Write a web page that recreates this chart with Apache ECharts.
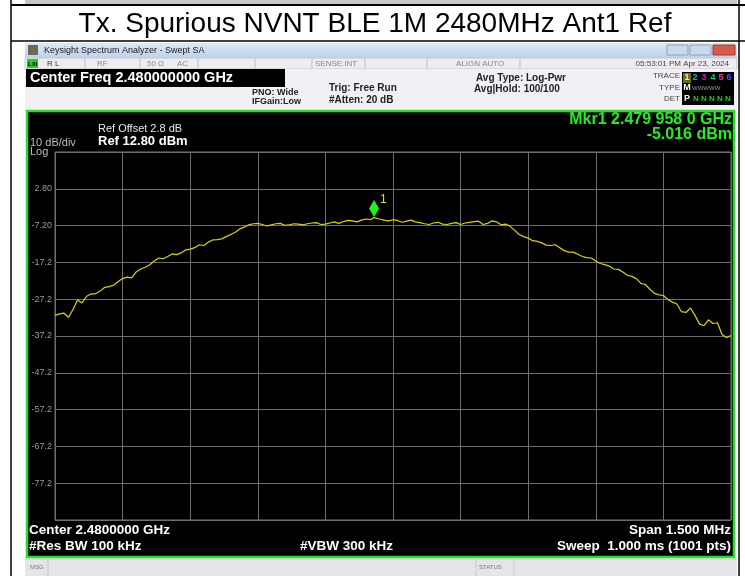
<!DOCTYPE html>
<html>
<head>
<meta charset="utf-8">
<script src="https://cdn.jsdelivr.net/npm/echarts@6/dist/echarts.min.js"></script>
<style>
  html, body { margin: 0; padding: 0; background: #fff; }
  #chart { width: 745px; height: 576px; }
</style>
</head>
<body>
<div id="chart"></div>
<script>
// trace data (frequency in MHz, level in dBm)
const freqMHz = [
  2479.25, 2479.26, 2479.27, 2479.28, 2479.29, 2479.30, 2479.31, 2479.32, 2479.33, 2479.34,
  2479.35, 2479.36, 2479.37, 2479.38, 2479.39, 2479.40, 2479.41, 2479.42, 2479.43, 2479.44,
  2479.45, 2479.46, 2479.47, 2479.48, 2479.49, 2479.50, 2479.51, 2479.52, 2479.53, 2479.54,
  2479.55, 2479.56, 2479.57, 2479.58, 2479.59, 2479.60, 2479.61, 2479.62, 2479.63, 2479.64,
  2479.65, 2479.66, 2479.67, 2479.68, 2479.69, 2479.70, 2479.71, 2479.72, 2479.73, 2479.74,
  2479.75, 2479.76, 2479.77, 2479.78, 2479.79, 2479.80, 2479.81, 2479.82, 2479.83, 2479.84,
  2479.85, 2479.86, 2479.87, 2479.88, 2479.89, 2479.90, 2479.91, 2479.92, 2479.93, 2479.94,
  2479.95, 2479.958, 2479.97, 2479.98, 2479.99, 2480.00, 2480.01, 2480.02, 2480.03, 2480.04,
  2480.05, 2480.06, 2480.07, 2480.08, 2480.09, 2480.10, 2480.11, 2480.12, 2480.13, 2480.14,
  2480.15, 2480.16, 2480.17, 2480.18, 2480.19, 2480.20, 2480.21, 2480.22, 2480.23, 2480.24,
  2480.25, 2480.26, 2480.27, 2480.28, 2480.29, 2480.30, 2480.31, 2480.32, 2480.33, 2480.34,
  2480.35, 2480.36, 2480.37, 2480.38, 2480.39, 2480.40, 2480.41, 2480.42, 2480.43, 2480.44,
  2480.45, 2480.46, 2480.47, 2480.48, 2480.49, 2480.50, 2480.51, 2480.52, 2480.53, 2480.54,
  2480.55, 2480.56, 2480.57, 2480.58, 2480.59, 2480.60, 2480.61, 2480.62, 2480.63, 2480.64,
  2480.65, 2480.66, 2480.67, 2480.68, 2480.69, 2480.70, 2480.71, 2480.72, 2480.73, 2480.74,
  2480.75
];
const levelDbm = [
  -31.6, -31.2, -31.0, -32.1, -30.0, -27.4, -28.2, -26.4, -25.8, -25.7,
  -25.0, -24.0, -23.8, -23.4, -22.4, -21.6, -21.2, -21.4, -19.8, -19.0,
  -18.5, -17.9, -16.8, -16.0, -16.2, -15.6, -14.9, -15.1, -14.6, -13.8,
  -13.6, -13.2, -12.4, -12.6, -11.7, -11.1, -11.0, -10.8, -10.2, -9.6,
  -9.0, -8.1, -7.6, -7.0, -6.7, -6.6, -6.9, -7.3, -7.0, -6.7,
  -6.6, -7.1, -7.0, -6.7, -6.8, -7.0, -6.7, -6.5, -6.4, -6.9,
  -6.8, -6.5, -6.2, -6.6, -6.1, -5.8, -5.9, -6.2, -5.7, -5.4,
  -5.6, -5.016, -5.4, -5.7, -5.9, -5.6, -5.8, -6.3, -6.0, -5.7,
  -6.2, -6.4, -6.7, -6.9, -6.5, -6.3, -6.8, -6.9, -6.6, -6.4,
  -6.9, -6.5, -6.3, -6.1, -6.0, -6.9, -6.6, -5.9, -6.2, -7.0,
  -6.8, -7.4, -8.5, -9.6, -10.2, -10.6, -11.3, -11.5, -11.9, -12.5,
  -12.6, -12.4, -13.2, -14.0, -14.4, -14.4, -15.0, -15.6, -15.9, -16.0,
  -16.8, -17.5, -17.8, -18.2, -19.0, -19.1, -19.8, -20.7, -21.0, -21.6,
  -22.9, -23.2, -24.5, -25.6, -26.0, -26.2, -27.3, -28.0, -28.5, -30.6,
  -30.8, -29.6, -31.6, -33.9, -34.4, -32.8, -33.8, -33.6, -36.8, -37.6,
  -37.1
];
const marker = [2479.958, -5.016];
const refLevel = 12.8;
const bottomLevel = -87.2;
const dbPerDiv = 10;
const startMHz = 2479.25;
const stopMHz = 2480.75;

const FONT = '"Liberation Sans", Arial, sans-serif';

function txt(x, y, s, size, fill, opts) {
  opts = opts || {};
  return {
    type: 'text', x: x, y: y, z: 50,
    style: {
      text: s,
      fill: fill,
      font: (opts.bold ? 'bold ' : '') + size + 'px ' + FONT,
      align: opts.align || 'left',
      verticalAlign: 'middle'
    }
  };
}
function box(x, y, w, h, fill, stroke, lw) {
  return {
    type: 'rect', z: -5,
    shape: { x: x, y: y, width: w, height: h },
    style: { fill: fill, stroke: stroke || null, lineWidth: lw || 1 }
  };
}
function vline(x, y1, y2, color, w) {
  return {
    type: 'line', z: 30,
    shape: { x1: x, y1: y1, x2: x, y2: y2 },
    style: { stroke: color, lineWidth: w || 1 }
  };
}
function hline(y, x1, x2, color, w) {
  return {
    type: 'line', z: 30,
    shape: { x1: x1, y1: y, x2: x2, y2: y },
    style: { stroke: color, lineWidth: w || 1 }
  };
}

const graphics = [
  // page table frame
  box(25, 0, 712, 4, '#c8c8c8'),
  hline(5, 11, 745, '#000', 2),
  hline(41, 11, 745, '#000', 1.5),
  vline(11, 0, 576, '#000', 1.5),
  vline(739, 0, 576, '#000', 1.5),
  txt(375, 24, 'Tx. Spurious NVNT BLE 1M 2480MHz Ant1 Ref', 28, '#000', { align: 'center' }),

  // window title bar
  {
    type: 'rect', z: -5,
    shape: { x: 25, y: 43, width: 712, height: 15 },
    style: {
      fill: new echarts.graphic.LinearGradient(0, 0, 0, 1, [
        { offset: 0, color: '#dde8f4' }, { offset: 1, color: '#bcd2ea' }
      ])
    }
  },
  box(28, 45, 10, 10, '#6b6a55'),
  txt(44, 51, 'Keysight Spectrum Analyzer - Swept SA', 9, '#1a1a1a'),
  box(667, 45, 21, 10, '#c9d9ec', '#8aa2bf'),
  box(690, 45, 21, 10, '#c9d9ec', '#8aa2bf'),
  box(713, 45, 22, 10, '#d95a4a', '#9b3a30'),

  // status row
  box(25, 58, 712, 11, '#eeecf0', '#c8c6cc'),
  box(27, 59, 11, 9, '#22d022'),
  txt(28, 64, 'LXI', 6, '#000', { bold: true }),
  txt(47, 64, 'R L', 8, '#333'),
  txt(97, 64, 'RF', 8, '#888'),
  txt(147, 64, '50 Ω', 8, '#888'),
  txt(177, 64, 'AC', 8, '#888'),
  txt(315, 64, 'SENSE:INT', 8, '#888'),
  txt(456, 64, 'ALIGN AUTO', 8, '#888'),
  txt(729, 64, '05:53:01 PM Apr 23, 2024', 8, '#444', { align: 'right' }),
  vline(85, 58, 69, '#c0bec4'), vline(140, 58, 69, '#c0bec4'),
  vline(198, 58, 69, '#c0bec4'), vline(255, 58, 69, '#c0bec4'),
  vline(312, 58, 69, '#c0bec4'), vline(365, 58, 69, '#c0bec4'),
  vline(427, 58, 69, '#c0bec4'), vline(520, 58, 69, '#c0bec4'),

  // info panel
  box(25, 69, 712, 41, '#f2f0f4'),
  box(26, 69, 259, 18, '#000'),
  txt(30, 78, 'Center Freq 2.480000000 GHz', 14.5, '#fff', { bold: true }),
  txt(252, 93, 'PNO: Wide', 9, '#222', { bold: true }),
  txt(252, 102, 'IFGain:Low', 9, '#222', { bold: true }),
  txt(268, 92, '→', 10, '#222', { align: 'center' }),
  txt(329, 88, 'Trig: Free Run', 10, '#222', { bold: true }),
  txt(329, 100, '#Atten: 20 dB', 10, '#222', { bold: true }),
  txt(476, 78, 'Avg Type: Log-Pwr', 10, '#222', { bold: true }),
  txt(474, 89, 'Avg|Hold: 100/100', 10, '#222', { bold: true }),
  txt(680, 76, 'TRACE', 8, '#444', { align: 'right' }),
  txt(680, 88, 'TYPE', 8, '#444', { align: 'right' }),
  txt(680, 99, 'DET', 8, '#444', { align: 'right' }),
  box(682, 72, 52, 33, '#000'),
  box(683, 73, 8, 10, '#6a6a20'),
  txt(687, 78, '1', 9, '#ffff40', { bold: true, align: 'center' }),
  txt(695, 78, '2', 9, '#00b8c8', { bold: true, align: 'center' }),
  txt(704, 78, '3', 9, '#c020c0', { bold: true, align: 'center' }),
  txt(713, 78, '4', 9, '#20c070', { bold: true, align: 'center' }),
  txt(721, 78, '5', 9, '#e04080', { bold: true, align: 'center' }),
  txt(729, 78, '6', 9, '#5050ff', { bold: true, align: 'center' }),
  txt(687, 88, 'M', 9, '#fff', { bold: true, align: 'center' }),
  txt(692, 88, 'WWWWW', 6, '#999'),
  txt(687, 99, 'P', 9, '#fff', { bold: true, align: 'center' }),
  txt(693, 99, 'N N N N N', 8, '#22c022', { bold: true }),

  // measurement panel
  box(27, 111, 707, 446, '#000', '#22e022', 2.5),
  txt(98, 129, 'Ref Offset 2.8 dB', 11, '#e8e8e8'),
  txt(98, 141, 'Ref 12.80 dBm', 13, '#fff', { bold: true }),
  txt(30, 143, '10 dB/div', 11, '#bbb'),
  txt(30, 152, 'Log', 11, '#bbb'),
  txt(732, 120, 'Mkr1 2.479 958 0 GHz', 16, '#22ee22', { bold: true, align: 'right' }),
  txt(732, 135, '-5.016 dBm', 16, '#22ee22', { bold: true, align: 'right' }),
  txt(29, 530, 'Center 2.4800000 GHz', 13.5, '#fff', { bold: true }),
  txt(29, 546, '#Res BW 100 kHz', 13.5, '#fff', { bold: true }),
  txt(300, 546, '#VBW 300 kHz', 13.5, '#fff', { bold: true }),
  txt(731, 530, 'Span 1.500 MHz', 13.5, '#fff', { bold: true, align: 'right' }),
  txt(731, 546, 'Sweep  1.000 ms (1001 pts)', 13.5, '#fff', { bold: true, align: 'right' }),

  // message bar
  box(25, 559, 712, 17, '#e6e4e8'),
  hline(559, 25, 737, '#c8c6cc'),
  vline(48, 559, 576, '#c8c6cc'),
  vline(476, 559, 576, '#c8c6cc'),
  vline(514, 559, 576, '#c8c6cc'),
  txt(30, 567, 'MSG', 6, '#777'),
  txt(479, 567, 'STATUS', 6, '#777')
];

const option = {
  animation: false,
  backgroundColor: '#fff',
  textStyle: { fontFamily: FONT },
  graphic: graphics,
  grid: {
    left: 55, top: 152, width: 676, height: 368, z: 5,
    show: true, borderColor: '#777', borderWidth: 1, backgroundColor: 'transparent'
  },
  xAxis: {
    type: 'value', z: 5,
    min: startMHz, max: stopMHz, interval: (stopMHz - startMHz) / 10,
    axisLine: { show: false }, axisTick: { show: false }, axisLabel: { show: false },
    splitLine: { show: true, lineStyle: { color: '#6e6e6e', width: 1 } }
  },
  yAxis: {
    type: 'value', z: 5,
    min: bottomLevel, max: refLevel, interval: dbPerDiv,
    axisLine: { show: false }, axisTick: { show: false },
    axisLabel: {
      margin: 3, fontSize: 9, color: '#9a9a9a', fontFamily: FONT,
      formatter: function (v) {
        const r = Math.round(v * 10) / 10;
        if (r === refLevel || r === bottomLevel) return '';
        return Math.abs(r) < 10 ? r.toFixed(2) : r.toFixed(1);
      }
    },
    splitLine: { show: true, lineStyle: { color: '#6e6e6e', width: 1 } }
  },
  series: [{
    type: 'line',
    z: 10,
    data: freqMHz.map((f, i) => [f, levelDbm[i]]),
    showSymbol: false,
    lineStyle: { color: '#d8d400', width: 1.2 },
    markPoint: {
      data: [{ coord: marker }],
      symbol: 'diamond',
      symbolSize: [10, 17],
      symbolOffset: [0, -9],
      itemStyle: { color: '#22ee22' },
      label: {
        show: true, formatter: '1', position: [11, -6],
        color: '#e8e000', fontSize: 12, fontFamily: FONT
      }
    }
  }]
};

const chart = echarts.init(document.getElementById('chart'));
chart.setOption(option);
</script>
</body>
</html>
